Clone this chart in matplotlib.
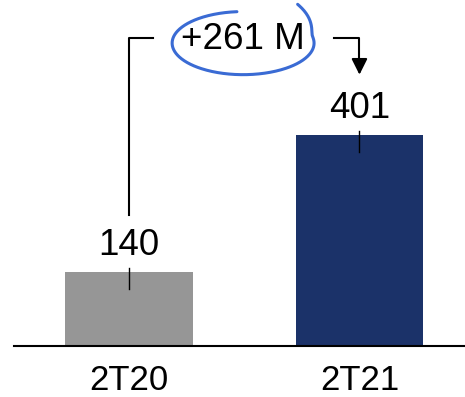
import numpy as np
import matplotlib.pyplot as plt

# Quarterly values (M)
periods = ['2T20', '2T21']
values = [140, 401]
colors = ['#969696', '#1b3269']

plt.rcParams['font.family'] = ['Liberation Sans', 'DejaVu Sans']

fig = plt.figure(figsize=(4.65, 3.97), dpi=100)
ax = fig.add_axes([0, 0, 1, 1])
ax.set_xlim(-0.56, 1.458)
ax.set_ylim(-97, 658)
ax.axis('off')

x = np.arange(len(values))
ax.bar(x, values, width=0.555, color=colors, zorder=2)
ax.axhline(0, xmin=0.03, xmax=1, color='black', lw=1.5, zorder=3)

for xi, v, p in zip(x, values, periods):
    ax.text(xi, v + 51, str(v), ha='center', va='center', fontsize=26.5)
    ax.plot([xi, xi], [v + 8, v - 32], color='black', lw=1, zorder=3)
    ax.text(xi, -66, p, ha='center', va='center', fontsize=25)

# bracket with the difference
diff = values[1] - values[0]
top = 586
ax.plot([x[0], x[0], 0.105], [values[0] + 109, top, top], color='black', lw=1.5)
ax.plot([0.890, x[1], x[1]], [top, top, values[1] + 140], color='black', lw=1.5)
ax.annotate('', xy=(x[1], values[1] + 115), xytext=(x[1], values[1] + 145),
            arrowprops=dict(arrowstyle='-|>', color='black', lw=1.5,
                            mutation_scale=24, shrinkA=0, shrinkB=0))
ax.text(0.495, 582, f'+{diff} M', ha='center', va='center', fontsize=26.5)

# hand drawn circle around the difference, ending in a loose flick at the top
t = np.radians(np.linspace(95, 418, 400))
grow = np.clip((t - np.radians(372)) / np.radians(46), 0, 1)
r = 1 + 0.45 * grow ** 1.5
cx, cy = 0.495, 576
ex = cx + 0.308 * r * np.cos(t)
ey = cy + 60 * r * np.sin(t)
ax.plot(ex, ey, color='#3a6bd4', lw=2.2, solid_capstyle='round', zorder=4)

fig.savefig('out.png', dpi=100)
